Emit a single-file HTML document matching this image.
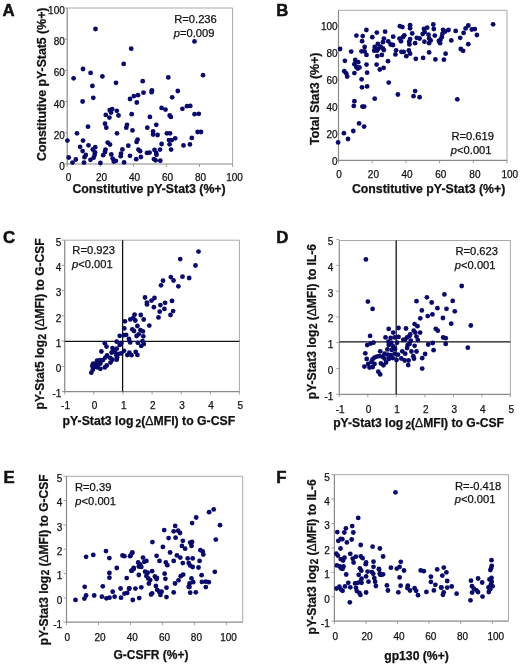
<!DOCTYPE html>
<html><head><meta charset="utf-8"><style>
html,body{margin:0;padding:0;background:#fff;width:520px;height:667px;overflow:hidden}
svg{display:block;font-family:"Liberation Sans", sans-serif;will-change:transform;}
text{fill:#111;stroke:#111;stroke-width:0.25px}
circle{fill:#0a0a6a}
</style></head><body>
<svg width="520" height="667" viewBox="0 0 520 667">
<path d="M67.2 8.0H232.6V164.0" stroke="#a8a8a8" stroke-width="1" fill="none"/>
<path d="M67.2 8.0V164.0H232.6" stroke="#8a8a8a" stroke-width="1.2" fill="none"/>
<path d="M338.5 10.3H507.0V160.3" stroke="#a8a8a8" stroke-width="1" fill="none"/>
<path d="M338.5 10.3V160.3H507.0" stroke="#8a8a8a" stroke-width="1.2" fill="none"/>
<path d="M64.7 240.2H239.4V391.6" stroke="#a8a8a8" stroke-width="1" fill="none"/>
<path d="M64.7 240.2V391.6H239.4" stroke="#8a8a8a" stroke-width="1.2" fill="none"/>
<path d="M339.3 240.5H510.4V394.3" stroke="#a8a8a8" stroke-width="1" fill="none"/>
<path d="M339.3 240.5V394.3H510.4" stroke="#8a8a8a" stroke-width="1.2" fill="none"/>
<path d="M66.5 476.3H242.7V622.2" stroke="#a8a8a8" stroke-width="1" fill="none"/>
<path d="M66.5 476.3V622.2H242.7" stroke="#8a8a8a" stroke-width="1.2" fill="none"/>
<path d="M334.4 474.7H508.5V621.2" stroke="#a8a8a8" stroke-width="1" fill="none"/>
<path d="M334.4 474.7V621.2H508.5" stroke="#8a8a8a" stroke-width="1.2" fill="none"/>
<text x="64.8" y="169.9" font-size="10.0" font-weight="normal" text-anchor="end" >0</text>
<path d="M64.2 164.0h3" stroke="#8a8a8a" stroke-width="0.8"/>
<text x="64.8" y="138.7" font-size="10.0" font-weight="normal" text-anchor="end" >20</text>
<path d="M64.2 132.8h3" stroke="#8a8a8a" stroke-width="0.8"/>
<text x="64.8" y="107.5" font-size="10.0" font-weight="normal" text-anchor="end" >40</text>
<path d="M64.2 101.6h3" stroke="#8a8a8a" stroke-width="0.8"/>
<text x="64.8" y="76.3" font-size="10.0" font-weight="normal" text-anchor="end" >60</text>
<path d="M64.2 70.4h3" stroke="#8a8a8a" stroke-width="0.8"/>
<text x="64.8" y="45.1" font-size="10.0" font-weight="normal" text-anchor="end" >80</text>
<path d="M64.2 39.2h3" stroke="#8a8a8a" stroke-width="0.8"/>
<text x="64.8" y="13.9" font-size="10.0" font-weight="normal" text-anchor="end" >100</text>
<path d="M64.2 8.0h3" stroke="#8a8a8a" stroke-width="0.8"/>
<text x="68.6" y="180.8" font-size="10.0" font-weight="normal" text-anchor="middle" >0</text>
<path d="M67.2 164.0v3" stroke="#8a8a8a" stroke-width="0.8"/>
<text x="101.6" y="180.8" font-size="10.0" font-weight="normal" text-anchor="middle" >20</text>
<path d="M100.3 164.0v3" stroke="#8a8a8a" stroke-width="0.8"/>
<text x="134.6" y="180.8" font-size="10.0" font-weight="normal" text-anchor="middle" >40</text>
<path d="M133.4 164.0v3" stroke="#8a8a8a" stroke-width="0.8"/>
<text x="167.5" y="180.8" font-size="10.0" font-weight="normal" text-anchor="middle" >60</text>
<path d="M166.4 164.0v3" stroke="#8a8a8a" stroke-width="0.8"/>
<text x="200.6" y="180.8" font-size="10.0" font-weight="normal" text-anchor="middle" >80</text>
<path d="M199.5 164.0v3" stroke="#8a8a8a" stroke-width="0.8"/>
<text x="234.6" y="180.8" font-size="10.0" font-weight="normal" text-anchor="middle" >100</text>
<path d="M232.6 164.0v3" stroke="#8a8a8a" stroke-width="0.8"/>
<text x="337.6" y="164.9" font-size="10.0" font-weight="normal" text-anchor="end" >0</text>
<path d="M335.5 160.3h3" stroke="#8a8a8a" stroke-width="0.8"/>
<text x="337.6" y="137.8" font-size="10.0" font-weight="normal" text-anchor="end" >20</text>
<path d="M335.5 133.2h3" stroke="#8a8a8a" stroke-width="0.8"/>
<text x="337.6" y="110.8" font-size="10.0" font-weight="normal" text-anchor="end" >40</text>
<path d="M335.5 106.2h3" stroke="#8a8a8a" stroke-width="0.8"/>
<text x="337.6" y="83.7" font-size="10.0" font-weight="normal" text-anchor="end" >60</text>
<path d="M335.5 79.1h3" stroke="#8a8a8a" stroke-width="0.8"/>
<text x="337.6" y="56.7" font-size="10.0" font-weight="normal" text-anchor="end" >80</text>
<path d="M335.5 52.1h3" stroke="#8a8a8a" stroke-width="0.8"/>
<text x="337.6" y="29.6" font-size="10.0" font-weight="normal" text-anchor="end" >100</text>
<path d="M335.5 25.0h3" stroke="#8a8a8a" stroke-width="0.8"/>
<text x="339.0" y="177.9" font-size="10.0" font-weight="normal" text-anchor="middle" >0</text>
<path d="M338.5 160.3v3" stroke="#8a8a8a" stroke-width="0.8"/>
<text x="373.4" y="177.9" font-size="10.0" font-weight="normal" text-anchor="middle" >20</text>
<path d="M372.2 160.3v3" stroke="#8a8a8a" stroke-width="0.8"/>
<text x="407.0" y="177.9" font-size="10.0" font-weight="normal" text-anchor="middle" >40</text>
<path d="M405.9 160.3v3" stroke="#8a8a8a" stroke-width="0.8"/>
<text x="440.8" y="177.9" font-size="10.0" font-weight="normal" text-anchor="middle" >60</text>
<path d="M439.6 160.3v3" stroke="#8a8a8a" stroke-width="0.8"/>
<text x="474.9" y="177.9" font-size="10.0" font-weight="normal" text-anchor="middle" >80</text>
<path d="M473.3 160.3v3" stroke="#8a8a8a" stroke-width="0.8"/>
<text x="509.8" y="177.9" font-size="10.0" font-weight="normal" text-anchor="middle" >100</text>
<path d="M507.0 160.3v3" stroke="#8a8a8a" stroke-width="0.8"/>
<text x="61.3" y="397.3" font-size="10.0" font-weight="normal" text-anchor="end" >-1</text>
<path d="M61.7 391.6h3" stroke="#8a8a8a" stroke-width="0.8"/>
<text x="61.3" y="372.1" font-size="10.0" font-weight="normal" text-anchor="end" >0</text>
<path d="M61.7 366.4h3" stroke="#8a8a8a" stroke-width="0.8"/>
<text x="61.3" y="346.8" font-size="10.0" font-weight="normal" text-anchor="end" >1</text>
<path d="M61.7 341.1h3" stroke="#8a8a8a" stroke-width="0.8"/>
<text x="61.3" y="321.6" font-size="10.0" font-weight="normal" text-anchor="end" >2</text>
<path d="M61.7 315.9h3" stroke="#8a8a8a" stroke-width="0.8"/>
<text x="61.3" y="296.4" font-size="10.0" font-weight="normal" text-anchor="end" >3</text>
<path d="M61.7 290.7h3" stroke="#8a8a8a" stroke-width="0.8"/>
<text x="61.3" y="271.1" font-size="10.0" font-weight="normal" text-anchor="end" >4</text>
<path d="M61.7 265.4h3" stroke="#8a8a8a" stroke-width="0.8"/>
<text x="61.3" y="245.9" font-size="10.0" font-weight="normal" text-anchor="end" >5</text>
<path d="M61.7 240.2h3" stroke="#8a8a8a" stroke-width="0.8"/>
<text x="65.5" y="409.2" font-size="10.0" font-weight="normal" text-anchor="middle" >-1</text>
<path d="M64.7 391.6v3" stroke="#8a8a8a" stroke-width="0.8"/>
<text x="94.6" y="409.2" font-size="10.0" font-weight="normal" text-anchor="middle" >0</text>
<path d="M93.8 391.6v3" stroke="#8a8a8a" stroke-width="0.8"/>
<text x="123.7" y="409.2" font-size="10.0" font-weight="normal" text-anchor="middle" >1</text>
<path d="M122.9 391.6v3" stroke="#8a8a8a" stroke-width="0.8"/>
<text x="152.9" y="409.2" font-size="10.0" font-weight="normal" text-anchor="middle" >2</text>
<path d="M152.1 391.6v3" stroke="#8a8a8a" stroke-width="0.8"/>
<text x="182.0" y="409.2" font-size="10.0" font-weight="normal" text-anchor="middle" >3</text>
<path d="M181.2 391.6v3" stroke="#8a8a8a" stroke-width="0.8"/>
<text x="211.1" y="409.2" font-size="10.0" font-weight="normal" text-anchor="middle" >4</text>
<path d="M210.3 391.6v3" stroke="#8a8a8a" stroke-width="0.8"/>
<text x="240.2" y="409.2" font-size="10.0" font-weight="normal" text-anchor="middle" >5</text>
<path d="M239.4 391.6v3" stroke="#8a8a8a" stroke-width="0.8"/>
<text x="333.3" y="399.6" font-size="10.0" font-weight="normal" text-anchor="end" >-1</text>
<path d="M336.3 394.3h3" stroke="#8a8a8a" stroke-width="0.8"/>
<text x="333.3" y="373.8" font-size="10.0" font-weight="normal" text-anchor="end" >0</text>
<path d="M336.3 368.5h3" stroke="#8a8a8a" stroke-width="0.8"/>
<text x="333.3" y="348.0" font-size="10.0" font-weight="normal" text-anchor="end" >1</text>
<path d="M336.3 342.7h3" stroke="#8a8a8a" stroke-width="0.8"/>
<text x="333.3" y="322.2" font-size="10.0" font-weight="normal" text-anchor="end" >2</text>
<path d="M336.3 316.9h3" stroke="#8a8a8a" stroke-width="0.8"/>
<text x="333.3" y="296.5" font-size="10.0" font-weight="normal" text-anchor="end" >3</text>
<path d="M336.3 291.2h3" stroke="#8a8a8a" stroke-width="0.8"/>
<text x="333.3" y="270.7" font-size="10.0" font-weight="normal" text-anchor="end" >4</text>
<path d="M336.3 265.4h3" stroke="#8a8a8a" stroke-width="0.8"/>
<text x="333.3" y="244.9" font-size="10.0" font-weight="normal" text-anchor="end" >5</text>
<path d="M336.3 239.6h3" stroke="#8a8a8a" stroke-width="0.8"/>
<text x="340.1" y="412.8" font-size="10.0" font-weight="normal" text-anchor="middle" >-1</text>
<path d="M339.3 394.3v3" stroke="#8a8a8a" stroke-width="0.8"/>
<text x="368.6" y="412.8" font-size="10.0" font-weight="normal" text-anchor="middle" >0</text>
<path d="M367.8 394.3v3" stroke="#8a8a8a" stroke-width="0.8"/>
<text x="397.1" y="412.8" font-size="10.0" font-weight="normal" text-anchor="middle" >1</text>
<path d="M396.3 394.3v3" stroke="#8a8a8a" stroke-width="0.8"/>
<text x="425.7" y="412.8" font-size="10.0" font-weight="normal" text-anchor="middle" >2</text>
<path d="M424.9 394.3v3" stroke="#8a8a8a" stroke-width="0.8"/>
<text x="454.2" y="412.8" font-size="10.0" font-weight="normal" text-anchor="middle" >3</text>
<path d="M453.4 394.3v3" stroke="#8a8a8a" stroke-width="0.8"/>
<text x="482.7" y="412.8" font-size="10.0" font-weight="normal" text-anchor="middle" >4</text>
<path d="M481.9 394.3v3" stroke="#8a8a8a" stroke-width="0.8"/>
<text x="511.2" y="412.8" font-size="10.0" font-weight="normal" text-anchor="middle" >5</text>
<path d="M510.4 394.3v3" stroke="#8a8a8a" stroke-width="0.8"/>
<text x="62.2" y="627.8" font-size="10.0" font-weight="normal" text-anchor="end" >-1</text>
<path d="M63.5 622.2h3" stroke="#8a8a8a" stroke-width="0.8"/>
<text x="62.2" y="603.5" font-size="10.0" font-weight="normal" text-anchor="end" >0</text>
<path d="M63.5 597.9h3" stroke="#8a8a8a" stroke-width="0.8"/>
<text x="62.2" y="579.2" font-size="10.0" font-weight="normal" text-anchor="end" >1</text>
<path d="M63.5 573.6h3" stroke="#8a8a8a" stroke-width="0.8"/>
<text x="62.2" y="554.9" font-size="10.0" font-weight="normal" text-anchor="end" >2</text>
<path d="M63.5 549.2h3" stroke="#8a8a8a" stroke-width="0.8"/>
<text x="62.2" y="530.5" font-size="10.0" font-weight="normal" text-anchor="end" >3</text>
<path d="M63.5 524.9h3" stroke="#8a8a8a" stroke-width="0.8"/>
<text x="62.2" y="506.2" font-size="10.0" font-weight="normal" text-anchor="end" >4</text>
<path d="M63.5 500.6h3" stroke="#8a8a8a" stroke-width="0.8"/>
<text x="62.2" y="481.9" font-size="10.0" font-weight="normal" text-anchor="end" >5</text>
<path d="M63.5 476.3h3" stroke="#8a8a8a" stroke-width="0.8"/>
<text x="67.4" y="640.6" font-size="10.0" font-weight="normal" text-anchor="middle" >0</text>
<path d="M66.5 622.2v3" stroke="#8a8a8a" stroke-width="0.8"/>
<text x="100.0" y="640.6" font-size="10.0" font-weight="normal" text-anchor="middle" >20</text>
<path d="M98.5 622.2v3" stroke="#8a8a8a" stroke-width="0.8"/>
<text x="132.2" y="640.6" font-size="10.0" font-weight="normal" text-anchor="middle" >40</text>
<path d="M130.5 622.2v3" stroke="#8a8a8a" stroke-width="0.8"/>
<text x="164.5" y="640.6" font-size="10.0" font-weight="normal" text-anchor="middle" >60</text>
<path d="M162.6 622.2v3" stroke="#8a8a8a" stroke-width="0.8"/>
<text x="196.4" y="640.6" font-size="10.0" font-weight="normal" text-anchor="middle" >80</text>
<path d="M194.6 622.2v3" stroke="#8a8a8a" stroke-width="0.8"/>
<text x="228.6" y="640.6" font-size="10.0" font-weight="normal" text-anchor="middle" >100</text>
<path d="M226.6 622.2v3" stroke="#8a8a8a" stroke-width="0.8"/>
<text x="329.9" y="627.0" font-size="10.0" font-weight="normal" text-anchor="end" >-1</text>
<path d="M331.4 621.2h3" stroke="#8a8a8a" stroke-width="0.8"/>
<text x="329.9" y="602.6" font-size="10.0" font-weight="normal" text-anchor="end" >0</text>
<path d="M331.4 596.8h3" stroke="#8a8a8a" stroke-width="0.8"/>
<text x="329.9" y="578.2" font-size="10.0" font-weight="normal" text-anchor="end" >1</text>
<path d="M331.4 572.4h3" stroke="#8a8a8a" stroke-width="0.8"/>
<text x="329.9" y="553.8" font-size="10.0" font-weight="normal" text-anchor="end" >2</text>
<path d="M331.4 548.0h3" stroke="#8a8a8a" stroke-width="0.8"/>
<text x="329.9" y="529.3" font-size="10.0" font-weight="normal" text-anchor="end" >3</text>
<path d="M331.4 523.5h3" stroke="#8a8a8a" stroke-width="0.8"/>
<text x="329.9" y="504.9" font-size="10.0" font-weight="normal" text-anchor="end" >4</text>
<path d="M331.4 499.1h3" stroke="#8a8a8a" stroke-width="0.8"/>
<text x="329.9" y="480.5" font-size="10.0" font-weight="normal" text-anchor="end" >5</text>
<path d="M331.4 474.7h3" stroke="#8a8a8a" stroke-width="0.8"/>
<text x="335.2" y="639.6" font-size="10.0" font-weight="normal" text-anchor="middle" >0</text>
<path d="M334.4 621.2v3" stroke="#8a8a8a" stroke-width="0.8"/>
<text x="367.1" y="639.6" font-size="10.0" font-weight="normal" text-anchor="middle" >20</text>
<path d="M366.0 621.2v3" stroke="#8a8a8a" stroke-width="0.8"/>
<text x="399.0" y="639.6" font-size="10.0" font-weight="normal" text-anchor="middle" >40</text>
<path d="M397.6 621.2v3" stroke="#8a8a8a" stroke-width="0.8"/>
<text x="430.8" y="639.6" font-size="10.0" font-weight="normal" text-anchor="middle" >60</text>
<path d="M429.1 621.2v3" stroke="#8a8a8a" stroke-width="0.8"/>
<text x="462.5" y="639.6" font-size="10.0" font-weight="normal" text-anchor="middle" >80</text>
<path d="M460.7 621.2v3" stroke="#8a8a8a" stroke-width="0.8"/>
<text x="495.8" y="639.6" font-size="10.0" font-weight="normal" text-anchor="middle" >100</text>
<path d="M492.3 621.2v3" stroke="#8a8a8a" stroke-width="0.8"/>
<path d="M122.6 240.2V391.6M64.7 341.3H239.4" stroke="#141414" stroke-width="1.3"/>
<path d="M396.2 240.5V394.3M339.3 341.9H510.4" stroke="#141414" stroke-width="1.3"/>
<text x="2.6" y="16.0" font-size="16.8" font-weight="bold" text-anchor="start" style="stroke-width:0.5px">A</text>
<text x="276.2" y="16.0" font-size="16.8" font-weight="bold" text-anchor="start" style="stroke-width:0.5px">B</text>
<text x="3.0" y="242.6" font-size="16.8" font-weight="bold" text-anchor="start" style="stroke-width:0.5px">C</text>
<text x="276.2" y="242.6" font-size="16.8" font-weight="bold" text-anchor="start" style="stroke-width:0.5px">D</text>
<text x="3.6" y="483.2" font-size="16.8" font-weight="bold" text-anchor="start" style="stroke-width:0.5px">E</text>
<text x="276.2" y="483.2" font-size="16.8" font-weight="bold" text-anchor="start" style="stroke-width:0.5px">F</text>
<text x="72.4" y="193.3" font-size="12.3" font-weight="bold" textLength="153.2" lengthAdjust="spacingAndGlyphs">Constitutive pY-Stat3 (%+)</text>
<text transform="translate(46.0,160.9) rotate(-90)" x="0" y="0" font-size="12.3" font-weight="bold" textLength="153.3" lengthAdjust="spacingAndGlyphs">Constitutive pY-Stat5 (%+)</text>
<text x="351.9" y="193.1" font-size="12.3" font-weight="bold" textLength="153.4" lengthAdjust="spacingAndGlyphs">Constitutive pY-Stat3 (%+)</text>
<text transform="translate(318.6,144.9) rotate(-90)" x="0" y="0" font-size="12.3" font-weight="bold" textLength="92.4" lengthAdjust="spacingAndGlyphs">Total Stat3 (%+)</text>
<text x="62.6" y="425.2" font-size="12.3" font-weight="bold" textLength="172.6" lengthAdjust="spacingAndGlyphs">pY-Stat3 log<tspan font-size="10.2" dx="2.2" dy="1.6">2</tspan><tspan dy="-1.6">(</tspan><tspan font-weight="normal">&#916;</tspan>MFI) to G-CSF</text>
<text transform="translate(44.2,409.4) rotate(-90)" x="0" y="0" font-size="12.3" font-weight="bold" textLength="170.9" lengthAdjust="spacingAndGlyphs">pY-Stat5 log<tspan font-size="10.2" dx="0.6" dy="1.6">2</tspan><tspan dy="-1.6"> (</tspan><tspan font-weight="normal">&#916;</tspan>MFI) to G-CSF</text>
<text x="333.2" y="427.0" font-size="12.3" font-weight="bold" textLength="170.8" lengthAdjust="spacingAndGlyphs">pY-Stat3 log<tspan font-size="10.2" dx="2.2" dy="1.6">2</tspan><tspan dy="-1.6">(</tspan><tspan font-weight="normal">&#916;</tspan>MFI) to G-CSF</text>
<text transform="translate(315.6,399.2) rotate(-90)" x="0" y="0" font-size="12.3" font-weight="bold" textLength="155.2" lengthAdjust="spacingAndGlyphs">pY-Stat3 log<tspan font-size="10.2" dx="0.6" dy="1.6">2</tspan><tspan dy="-1.6"> (</tspan><tspan font-weight="normal">&#916;</tspan>MFI) to IL-6</text>
<text x="113.5" y="658.5" font-size="12.3" font-weight="bold" textLength="75.0" lengthAdjust="spacingAndGlyphs">G-CSFR (%+)</text>
<text transform="translate(47.7,645.2) rotate(-90)" x="0" y="0" font-size="12.3" font-weight="bold" textLength="170.8" lengthAdjust="spacingAndGlyphs">pY-Stat3 log<tspan font-size="10.2" dx="0.6" dy="1.6">2</tspan><tspan dy="-1.6"> (</tspan><tspan font-weight="normal">&#916;</tspan>MFI) to G-CSF</text>
<text x="384.2" y="659.6" font-size="12.3" font-weight="bold" textLength="64.7" lengthAdjust="spacingAndGlyphs">gp130 (%+)</text>
<text transform="translate(316.0,634.4) rotate(-90)" x="0" y="0" font-size="12.3" font-weight="bold" textLength="155.2" lengthAdjust="spacingAndGlyphs">pY-Stat3 log<tspan font-size="10.2" dx="0.6" dy="1.6">2</tspan><tspan dy="-1.6"> (</tspan><tspan font-weight="normal">&#916;</tspan>MFI) to IL-6</text>
<text x="174.2" y="23.3" font-size="11.2" font-weight="normal" text-anchor="start" >R=0.236</text>
<text x="173.7" y="36.8" font-size="11.2"><tspan font-style="italic">p</tspan>=0.009</text>
<text x="451.4" y="139.5" font-size="11.2" font-weight="normal" text-anchor="start" >R=0.619</text>
<text x="450.8" y="153.6" font-size="11.2"><tspan font-style="italic">p</tspan>&lt;0.001</text>
<text x="72.3" y="254.2" font-size="11.2" font-weight="normal" text-anchor="start" >R=0.923</text>
<text x="71.9" y="268.2" font-size="11.2"><tspan font-style="italic">p</tspan>&lt;0.001</text>
<text x="455.4" y="255.1" font-size="11.2" font-weight="normal" text-anchor="start" >R=0.623</text>
<text x="454.8" y="268.8" font-size="11.2"><tspan font-style="italic">p</tspan>&lt;0.001</text>
<text x="75.0" y="490.9" font-size="11.2" font-weight="normal" text-anchor="start" >R=0.39</text>
<text x="75.3" y="504.8" font-size="11.2"><tspan font-style="italic">p</tspan>&lt;0.001</text>
<text x="454.9" y="489.7" font-size="11.2" font-weight="normal" text-anchor="start" >R=-0.418</text>
<text x="454.7" y="503.1" font-size="11.2"><tspan font-style="italic">p</tspan>&lt;0.001</text>
<circle cx="95.5" cy="29.0" r="2.4"/>
<circle cx="131.2" cy="48.7" r="2.4"/>
<circle cx="123.7" cy="63.9" r="2.4"/>
<circle cx="83.0" cy="69.0" r="2.4"/>
<circle cx="90.6" cy="72.9" r="2.4"/>
<circle cx="102.4" cy="76.4" r="2.4"/>
<circle cx="73.6" cy="78.3" r="2.4"/>
<circle cx="142.7" cy="81.2" r="2.4"/>
<circle cx="116.0" cy="82.8" r="2.4"/>
<circle cx="194.5" cy="41.4" r="2.4"/>
<circle cx="168.3" cy="77.4" r="2.4"/>
<circle cx="203.0" cy="75.2" r="2.4"/>
<circle cx="92.4" cy="85.9" r="2.4"/>
<circle cx="93.3" cy="97.8" r="2.4"/>
<circle cx="82.6" cy="101.5" r="2.4"/>
<circle cx="130.0" cy="99.0" r="2.4"/>
<circle cx="133.9" cy="96.1" r="2.4"/>
<circle cx="138.0" cy="95.2" r="2.4"/>
<circle cx="143.5" cy="92.7" r="2.4"/>
<circle cx="136.8" cy="102.5" r="2.4"/>
<circle cx="109.7" cy="110.1" r="2.4"/>
<circle cx="112.2" cy="109.1" r="2.4"/>
<circle cx="116.8" cy="110.8" r="2.4"/>
<circle cx="111.0" cy="112.5" r="2.4"/>
<circle cx="105.8" cy="114.9" r="2.4"/>
<circle cx="118.5" cy="115.5" r="2.4"/>
<circle cx="109.4" cy="117.6" r="2.4"/>
<circle cx="131.7" cy="114.2" r="2.4"/>
<circle cx="105.0" cy="123.7" r="2.4"/>
<circle cx="106.3" cy="127.7" r="2.4"/>
<circle cx="88.0" cy="126.7" r="2.4"/>
<circle cx="127.0" cy="124.8" r="2.4"/>
<circle cx="126.3" cy="127.7" r="2.4"/>
<circle cx="132.5" cy="130.4" r="2.4"/>
<circle cx="117.0" cy="133.3" r="2.4"/>
<circle cx="77.0" cy="133.3" r="2.4"/>
<circle cx="67.4" cy="140.6" r="2.4"/>
<circle cx="83.0" cy="140.6" r="2.4"/>
<circle cx="88.5" cy="145.3" r="2.4"/>
<circle cx="80.1" cy="146.8" r="2.4"/>
<circle cx="107.7" cy="142.6" r="2.4"/>
<circle cx="110.0" cy="144.6" r="2.4"/>
<circle cx="137.6" cy="139.6" r="2.4"/>
<circle cx="136.6" cy="141.9" r="2.4"/>
<circle cx="128.3" cy="145.7" r="2.4"/>
<circle cx="82.6" cy="151.1" r="2.4"/>
<circle cx="95.2" cy="147.2" r="2.4"/>
<circle cx="92.8" cy="149.5" r="2.4"/>
<circle cx="95.0" cy="152.3" r="2.4"/>
<circle cx="94.6" cy="155.0" r="2.4"/>
<circle cx="93.6" cy="157.7" r="2.4"/>
<circle cx="90.5" cy="159.8" r="2.4"/>
<circle cx="85.8" cy="155.0" r="2.4"/>
<circle cx="84.5" cy="157.2" r="2.4"/>
<circle cx="105.5" cy="149.6" r="2.4"/>
<circle cx="105.0" cy="152.0" r="2.4"/>
<circle cx="103.2" cy="155.2" r="2.4"/>
<circle cx="111.3" cy="154.5" r="2.4"/>
<circle cx="112.7" cy="158.6" r="2.4"/>
<circle cx="113.8" cy="161.5" r="2.4"/>
<circle cx="115.9" cy="160.8" r="2.4"/>
<circle cx="122.4" cy="149.4" r="2.4"/>
<circle cx="121.0" cy="153.6" r="2.4"/>
<circle cx="120.7" cy="156.2" r="2.4"/>
<circle cx="130.0" cy="155.8" r="2.4"/>
<circle cx="138.4" cy="149.6" r="2.4"/>
<circle cx="140.1" cy="151.2" r="2.4"/>
<circle cx="140.9" cy="157.0" r="2.4"/>
<circle cx="68.7" cy="157.5" r="2.4"/>
<circle cx="75.8" cy="159.5" r="2.4"/>
<circle cx="72.5" cy="162.6" r="2.4"/>
<circle cx="84.0" cy="162.6" r="2.4"/>
<circle cx="100.4" cy="162.9" r="2.4"/>
<circle cx="124.1" cy="162.4" r="2.4"/>
<circle cx="136.2" cy="159.2" r="2.4"/>
<circle cx="151.9" cy="90.3" r="2.4"/>
<circle cx="151.6" cy="92.2" r="2.4"/>
<circle cx="177.8" cy="91.0" r="2.4"/>
<circle cx="172.2" cy="97.3" r="2.4"/>
<circle cx="161.6" cy="107.9" r="2.4"/>
<circle cx="165.5" cy="109.6" r="2.4"/>
<circle cx="182.4" cy="108.8" r="2.4"/>
<circle cx="187.0" cy="106.2" r="2.4"/>
<circle cx="190.3" cy="105.9" r="2.4"/>
<circle cx="169.7" cy="115.5" r="2.4"/>
<circle cx="170.9" cy="116.9" r="2.4"/>
<circle cx="149.9" cy="116.9" r="2.4"/>
<circle cx="194.6" cy="114.2" r="2.4"/>
<circle cx="198.8" cy="113.8" r="2.4"/>
<circle cx="156.3" cy="124.8" r="2.4"/>
<circle cx="147.3" cy="127.7" r="2.4"/>
<circle cx="153.1" cy="131.5" r="2.4"/>
<circle cx="153.1" cy="134.6" r="2.4"/>
<circle cx="157.6" cy="135.0" r="2.4"/>
<circle cx="166.9" cy="133.3" r="2.4"/>
<circle cx="170.0" cy="133.3" r="2.4"/>
<circle cx="197.6" cy="132.0" r="2.4"/>
<circle cx="201.0" cy="132.0" r="2.4"/>
<circle cx="175.2" cy="138.3" r="2.4"/>
<circle cx="171.8" cy="140.1" r="2.4"/>
<circle cx="169.0" cy="140.1" r="2.4"/>
<circle cx="191.8" cy="137.9" r="2.4"/>
<circle cx="161.6" cy="144.0" r="2.4"/>
<circle cx="169.6" cy="144.3" r="2.4"/>
<circle cx="183.5" cy="145.4" r="2.4"/>
<circle cx="189.9" cy="144.4" r="2.4"/>
<circle cx="171.1" cy="149.6" r="2.4"/>
<circle cx="160.0" cy="149.6" r="2.4"/>
<circle cx="154.5" cy="149.9" r="2.4"/>
<circle cx="149.6" cy="152.6" r="2.4"/>
<circle cx="147.0" cy="152.9" r="2.4"/>
<circle cx="156.2" cy="152.9" r="2.4"/>
<circle cx="156.5" cy="154.8" r="2.4"/>
<circle cx="153.9" cy="159.1" r="2.4"/>
<circle cx="155.6" cy="160.3" r="2.4"/>
<circle cx="160.3" cy="160.7" r="2.4"/>
<circle cx="366.4" cy="30.0" r="2.4"/>
<circle cx="376.8" cy="32.6" r="2.4"/>
<circle cx="385.1" cy="31.7" r="2.4"/>
<circle cx="356.4" cy="35.6" r="2.4"/>
<circle cx="362.7" cy="36.1" r="2.4"/>
<circle cx="372.3" cy="37.2" r="2.4"/>
<circle cx="383.9" cy="38.6" r="2.4"/>
<circle cx="393.2" cy="36.7" r="2.4"/>
<circle cx="399.5" cy="38.6" r="2.4"/>
<circle cx="362.1" cy="41.2" r="2.4"/>
<circle cx="382.9" cy="42.2" r="2.4"/>
<circle cx="388.2" cy="41.3" r="2.4"/>
<circle cx="390.7" cy="44.5" r="2.4"/>
<circle cx="393.0" cy="45.0" r="2.4"/>
<circle cx="401.0" cy="41.3" r="2.4"/>
<circle cx="377.8" cy="44.0" r="2.4"/>
<circle cx="364.6" cy="47.0" r="2.4"/>
<circle cx="374.7" cy="46.9" r="2.4"/>
<circle cx="380.6" cy="46.6" r="2.4"/>
<circle cx="378.4" cy="48.8" r="2.4"/>
<circle cx="382.9" cy="48.4" r="2.4"/>
<circle cx="374.2" cy="50.7" r="2.4"/>
<circle cx="377.1" cy="50.7" r="2.4"/>
<circle cx="383.9" cy="50.1" r="2.4"/>
<circle cx="361.5" cy="51.3" r="2.4"/>
<circle cx="364.6" cy="51.4" r="2.4"/>
<circle cx="366.5" cy="54.9" r="2.4"/>
<circle cx="377.3" cy="56.1" r="2.4"/>
<circle cx="381.8" cy="54.9" r="2.4"/>
<circle cx="396.1" cy="50.3" r="2.4"/>
<circle cx="395.4" cy="54.4" r="2.4"/>
<circle cx="401.4" cy="51.8" r="2.4"/>
<circle cx="340.1" cy="49.0" r="2.4"/>
<circle cx="351.2" cy="51.6" r="2.4"/>
<circle cx="344.9" cy="60.8" r="2.4"/>
<circle cx="355.2" cy="60.0" r="2.4"/>
<circle cx="358.2" cy="62.2" r="2.4"/>
<circle cx="366.5" cy="64.6" r="2.4"/>
<circle cx="376.6" cy="64.6" r="2.4"/>
<circle cx="388.0" cy="61.2" r="2.4"/>
<circle cx="354.4" cy="64.2" r="2.4"/>
<circle cx="399.9" cy="26.2" r="2.4"/>
<circle cx="402.4" cy="27.1" r="2.4"/>
<circle cx="410.1" cy="25.2" r="2.4"/>
<circle cx="410.1" cy="28.3" r="2.4"/>
<circle cx="412.2" cy="33.4" r="2.4"/>
<circle cx="424.0" cy="29.0" r="2.4"/>
<circle cx="427.2" cy="27.7" r="2.4"/>
<circle cx="433.3" cy="24.5" r="2.4"/>
<circle cx="433.8" cy="29.0" r="2.4"/>
<circle cx="424.7" cy="32.1" r="2.4"/>
<circle cx="422.7" cy="34.0" r="2.4"/>
<circle cx="428.5" cy="34.7" r="2.4"/>
<circle cx="434.8" cy="35.6" r="2.4"/>
<circle cx="429.1" cy="38.5" r="2.4"/>
<circle cx="416.8" cy="37.8" r="2.4"/>
<circle cx="419.6" cy="38.5" r="2.4"/>
<circle cx="404.3" cy="35.3" r="2.4"/>
<circle cx="402.8" cy="37.2" r="2.4"/>
<circle cx="410.1" cy="39.1" r="2.4"/>
<circle cx="409.2" cy="41.7" r="2.4"/>
<circle cx="409.4" cy="44.4" r="2.4"/>
<circle cx="415.1" cy="43.2" r="2.4"/>
<circle cx="424.4" cy="41.7" r="2.4"/>
<circle cx="429.1" cy="43.2" r="2.4"/>
<circle cx="430.7" cy="40.4" r="2.4"/>
<circle cx="443.1" cy="30.0" r="2.4"/>
<circle cx="445.2" cy="31.5" r="2.4"/>
<circle cx="448.5" cy="30.0" r="2.4"/>
<circle cx="442.4" cy="34.0" r="2.4"/>
<circle cx="441.8" cy="37.2" r="2.4"/>
<circle cx="440.5" cy="39.7" r="2.4"/>
<circle cx="438.9" cy="41.0" r="2.4"/>
<circle cx="440.1" cy="43.2" r="2.4"/>
<circle cx="455.7" cy="30.9" r="2.4"/>
<circle cx="451.3" cy="40.4" r="2.4"/>
<circle cx="460.2" cy="37.8" r="2.4"/>
<circle cx="463.6" cy="32.9" r="2.4"/>
<circle cx="460.8" cy="49.0" r="2.4"/>
<circle cx="463.1" cy="50.8" r="2.4"/>
<circle cx="403.7" cy="51.8" r="2.4"/>
<circle cx="408.8" cy="50.5" r="2.4"/>
<circle cx="410.1" cy="53.7" r="2.4"/>
<circle cx="406.3" cy="56.2" r="2.4"/>
<circle cx="415.8" cy="58.8" r="2.4"/>
<circle cx="423.1" cy="57.9" r="2.4"/>
<circle cx="429.1" cy="52.4" r="2.4"/>
<circle cx="435.4" cy="59.4" r="2.4"/>
<circle cx="443.9" cy="59.7" r="2.4"/>
<circle cx="445.6" cy="53.7" r="2.4"/>
<circle cx="493.1" cy="24.3" r="2.4"/>
<circle cx="468.3" cy="25.5" r="2.4"/>
<circle cx="465.6" cy="28.4" r="2.4"/>
<circle cx="471.8" cy="29.5" r="2.4"/>
<circle cx="474.8" cy="29.1" r="2.4"/>
<circle cx="476.9" cy="35.0" r="2.4"/>
<circle cx="468.3" cy="44.2" r="2.4"/>
<circle cx="356.3" cy="67.0" r="2.4"/>
<circle cx="359.5" cy="67.4" r="2.4"/>
<circle cx="357.8" cy="68.6" r="2.4"/>
<circle cx="379.8" cy="69.5" r="2.4"/>
<circle cx="383.6" cy="67.9" r="2.4"/>
<circle cx="344.3" cy="71.2" r="2.4"/>
<circle cx="346.2" cy="73.3" r="2.4"/>
<circle cx="347.2" cy="76.5" r="2.4"/>
<circle cx="354.4" cy="73.1" r="2.4"/>
<circle cx="367.1" cy="72.7" r="2.4"/>
<circle cx="361.6" cy="79.3" r="2.4"/>
<circle cx="388.7" cy="82.6" r="2.4"/>
<circle cx="362.0" cy="87.3" r="2.4"/>
<circle cx="367.1" cy="86.4" r="2.4"/>
<circle cx="397.9" cy="94.5" r="2.4"/>
<circle cx="374.7" cy="98.7" r="2.4"/>
<circle cx="354.4" cy="101.2" r="2.4"/>
<circle cx="353.8" cy="105.9" r="2.4"/>
<circle cx="362.4" cy="106.6" r="2.4"/>
<circle cx="364.2" cy="106.6" r="2.4"/>
<circle cx="415.1" cy="91.1" r="2.4"/>
<circle cx="413.5" cy="96.2" r="2.4"/>
<circle cx="419.6" cy="97.2" r="2.4"/>
<circle cx="457.3" cy="99.3" r="2.4"/>
<circle cx="359.1" cy="123.4" r="2.4"/>
<circle cx="364.1" cy="126.6" r="2.4"/>
<circle cx="353.3" cy="131.0" r="2.4"/>
<circle cx="343.9" cy="133.2" r="2.4"/>
<circle cx="348.0" cy="139.0" r="2.4"/>
<circle cx="338.1" cy="142.4" r="2.4"/>
<circle cx="198.5" cy="251.6" r="2.4"/>
<circle cx="180.2" cy="259.1" r="2.4"/>
<circle cx="195.5" cy="265.5" r="2.4"/>
<circle cx="182.5" cy="276.7" r="2.4"/>
<circle cx="189.2" cy="278.0" r="2.4"/>
<circle cx="170.8" cy="277.1" r="2.4"/>
<circle cx="173.5" cy="280.5" r="2.4"/>
<circle cx="163.0" cy="280.7" r="2.4"/>
<circle cx="161.0" cy="285.3" r="2.4"/>
<circle cx="178.4" cy="286.3" r="2.4"/>
<circle cx="145.0" cy="297.5" r="2.4"/>
<circle cx="154.5" cy="298.0" r="2.4"/>
<circle cx="151.5" cy="300.6" r="2.4"/>
<circle cx="146.9" cy="302.6" r="2.4"/>
<circle cx="147.0" cy="304.4" r="2.4"/>
<circle cx="165.1" cy="302.8" r="2.4"/>
<circle cx="172.0" cy="300.9" r="2.4"/>
<circle cx="160.4" cy="305.1" r="2.4"/>
<circle cx="153.9" cy="307.2" r="2.4"/>
<circle cx="164.4" cy="308.9" r="2.4"/>
<circle cx="159.7" cy="311.7" r="2.4"/>
<circle cx="173.1" cy="311.1" r="2.4"/>
<circle cx="170.5" cy="315.0" r="2.4"/>
<circle cx="158.5" cy="317.4" r="2.4"/>
<circle cx="134.6" cy="314.6" r="2.4"/>
<circle cx="133.3" cy="318.0" r="2.4"/>
<circle cx="140.8" cy="315.0" r="2.4"/>
<circle cx="130.3" cy="319.4" r="2.4"/>
<circle cx="135.3" cy="320.5" r="2.4"/>
<circle cx="143.7" cy="319.5" r="2.4"/>
<circle cx="124.9" cy="321.3" r="2.4"/>
<circle cx="137.4" cy="326.0" r="2.4"/>
<circle cx="149.3" cy="325.6" r="2.4"/>
<circle cx="124.3" cy="328.4" r="2.4"/>
<circle cx="132.3" cy="329.3" r="2.4"/>
<circle cx="134.0" cy="331.0" r="2.4"/>
<circle cx="140.4" cy="330.1" r="2.4"/>
<circle cx="142.9" cy="331.4" r="2.4"/>
<circle cx="138.7" cy="334.3" r="2.4"/>
<circle cx="136.6" cy="336.0" r="2.4"/>
<circle cx="143.3" cy="336.3" r="2.4"/>
<circle cx="119.7" cy="335.8" r="2.4"/>
<circle cx="123.9" cy="335.2" r="2.4"/>
<circle cx="126.2" cy="334.8" r="2.4"/>
<circle cx="129.0" cy="339.0" r="2.4"/>
<circle cx="130.2" cy="342.4" r="2.4"/>
<circle cx="137.8" cy="342.8" r="2.4"/>
<circle cx="142.5" cy="341.1" r="2.4"/>
<circle cx="143.8" cy="344.1" r="2.4"/>
<circle cx="141.2" cy="345.9" r="2.4"/>
<circle cx="116.7" cy="341.7" r="2.4"/>
<circle cx="119.7" cy="344.9" r="2.4"/>
<circle cx="121.3" cy="343.2" r="2.4"/>
<circle cx="104.8" cy="343.2" r="2.4"/>
<circle cx="106.5" cy="346.6" r="2.4"/>
<circle cx="112.5" cy="348.1" r="2.4"/>
<circle cx="116.7" cy="348.7" r="2.4"/>
<circle cx="114.2" cy="350.2" r="2.4"/>
<circle cx="111.6" cy="352.5" r="2.4"/>
<circle cx="115.0" cy="352.5" r="2.4"/>
<circle cx="121.3" cy="353.4" r="2.4"/>
<circle cx="124.1" cy="350.8" r="2.4"/>
<circle cx="129.4" cy="352.7" r="2.4"/>
<circle cx="127.3" cy="355.1" r="2.4"/>
<circle cx="131.5" cy="355.2" r="2.4"/>
<circle cx="135.7" cy="351.9" r="2.4"/>
<circle cx="137.4" cy="354.9" r="2.4"/>
<circle cx="107.0" cy="355.5" r="2.4"/>
<circle cx="105.3" cy="357.6" r="2.4"/>
<circle cx="110.3" cy="358.0" r="2.4"/>
<circle cx="116.3" cy="355.1" r="2.4"/>
<circle cx="117.1" cy="357.2" r="2.4"/>
<circle cx="116.7" cy="359.7" r="2.4"/>
<circle cx="112.5" cy="359.7" r="2.4"/>
<circle cx="118.5" cy="353.8" r="2.4"/>
<circle cx="101.4" cy="351.5" r="2.4"/>
<circle cx="102.8" cy="360.2" r="2.4"/>
<circle cx="100.0" cy="360.2" r="2.4"/>
<circle cx="97.1" cy="360.7" r="2.4"/>
<circle cx="100.4" cy="363.6" r="2.4"/>
<circle cx="98.0" cy="364.5" r="2.4"/>
<circle cx="106.7" cy="365.5" r="2.4"/>
<circle cx="104.8" cy="367.4" r="2.4"/>
<circle cx="100.4" cy="368.8" r="2.4"/>
<circle cx="96.1" cy="363.6" r="2.4"/>
<circle cx="93.2" cy="363.6" r="2.4"/>
<circle cx="92.3" cy="366.0" r="2.4"/>
<circle cx="94.7" cy="366.9" r="2.4"/>
<circle cx="92.8" cy="369.8" r="2.4"/>
<circle cx="91.3" cy="372.7" r="2.4"/>
<circle cx="97.6" cy="367.4" r="2.4"/>
<circle cx="110.5" cy="362.6" r="2.4"/>
<circle cx="365.9" cy="259.4" r="2.4"/>
<circle cx="367.9" cy="301.6" r="2.4"/>
<circle cx="372.6" cy="308.9" r="2.4"/>
<circle cx="388.7" cy="328.9" r="2.4"/>
<circle cx="398.5" cy="328.0" r="2.4"/>
<circle cx="406.0" cy="328.5" r="2.4"/>
<circle cx="393.2" cy="332.6" r="2.4"/>
<circle cx="370.1" cy="335.9" r="2.4"/>
<circle cx="385.5" cy="337.4" r="2.4"/>
<circle cx="390.6" cy="337.9" r="2.4"/>
<circle cx="394.6" cy="337.4" r="2.4"/>
<circle cx="398.5" cy="336.9" r="2.4"/>
<circle cx="403.3" cy="339.8" r="2.4"/>
<circle cx="407.1" cy="337.4" r="2.4"/>
<circle cx="409.6" cy="335.8" r="2.4"/>
<circle cx="373.5" cy="342.7" r="2.4"/>
<circle cx="370.6" cy="343.6" r="2.4"/>
<circle cx="367.2" cy="345.1" r="2.4"/>
<circle cx="388.4" cy="341.7" r="2.4"/>
<circle cx="391.3" cy="342.7" r="2.4"/>
<circle cx="397.0" cy="342.7" r="2.4"/>
<circle cx="388.8" cy="345.1" r="2.4"/>
<circle cx="393.2" cy="346.5" r="2.4"/>
<circle cx="387.4" cy="349.4" r="2.4"/>
<circle cx="391.7" cy="349.9" r="2.4"/>
<circle cx="395.1" cy="348.9" r="2.4"/>
<circle cx="380.2" cy="351.3" r="2.4"/>
<circle cx="365.3" cy="353.3" r="2.4"/>
<circle cx="402.3" cy="351.3" r="2.4"/>
<circle cx="407.1" cy="348.0" r="2.4"/>
<circle cx="407.6" cy="345.1" r="2.4"/>
<circle cx="405.2" cy="353.7" r="2.4"/>
<circle cx="384.5" cy="353.7" r="2.4"/>
<circle cx="387.9" cy="354.7" r="2.4"/>
<circle cx="390.8" cy="355.2" r="2.4"/>
<circle cx="394.6" cy="353.7" r="2.4"/>
<circle cx="398.0" cy="354.7" r="2.4"/>
<circle cx="374.4" cy="357.6" r="2.4"/>
<circle cx="376.8" cy="356.6" r="2.4"/>
<circle cx="379.2" cy="356.1" r="2.4"/>
<circle cx="372.5" cy="359.5" r="2.4"/>
<circle cx="366.7" cy="359.0" r="2.4"/>
<circle cx="384.5" cy="358.5" r="2.4"/>
<circle cx="388.8" cy="359.0" r="2.4"/>
<circle cx="392.7" cy="358.1" r="2.4"/>
<circle cx="396.5" cy="360.0" r="2.4"/>
<circle cx="401.3" cy="358.5" r="2.4"/>
<circle cx="404.7" cy="360.5" r="2.4"/>
<circle cx="408.6" cy="360.5" r="2.4"/>
<circle cx="416.5" cy="336.6" r="2.4"/>
<circle cx="405.1" cy="339.7" r="2.4"/>
<circle cx="417.8" cy="340.1" r="2.4"/>
<circle cx="410.8" cy="340.7" r="2.4"/>
<circle cx="409.5" cy="343.9" r="2.4"/>
<circle cx="414.6" cy="345.8" r="2.4"/>
<circle cx="411.4" cy="351.5" r="2.4"/>
<circle cx="416.5" cy="351.5" r="2.4"/>
<circle cx="413.3" cy="356.2" r="2.4"/>
<circle cx="414.0" cy="358.7" r="2.4"/>
<circle cx="408.2" cy="365.1" r="2.4"/>
<circle cx="422.2" cy="368.6" r="2.4"/>
<circle cx="425.1" cy="354.0" r="2.4"/>
<circle cx="422.2" cy="358.2" r="2.4"/>
<circle cx="428.2" cy="344.5" r="2.4"/>
<circle cx="432.7" cy="343.0" r="2.4"/>
<circle cx="433.6" cy="350.2" r="2.4"/>
<circle cx="443.2" cy="337.5" r="2.4"/>
<circle cx="445.7" cy="338.2" r="2.4"/>
<circle cx="445.7" cy="343.9" r="2.4"/>
<circle cx="364.4" cy="366.6" r="2.4"/>
<circle cx="368.2" cy="364.0" r="2.4"/>
<circle cx="371.4" cy="362.1" r="2.4"/>
<circle cx="369.5" cy="367.6" r="2.4"/>
<circle cx="372.6" cy="367.2" r="2.4"/>
<circle cx="374.5" cy="364.0" r="2.4"/>
<circle cx="382.2" cy="356.7" r="2.4"/>
<circle cx="380.9" cy="363.4" r="2.4"/>
<circle cx="383.4" cy="365.3" r="2.4"/>
<circle cx="386.0" cy="362.5" r="2.4"/>
<circle cx="378.3" cy="371.7" r="2.4"/>
<circle cx="380.2" cy="374.4" r="2.4"/>
<circle cx="461.7" cy="286.0" r="2.4"/>
<circle cx="444.4" cy="294.4" r="2.4"/>
<circle cx="426.9" cy="297.3" r="2.4"/>
<circle cx="416.5" cy="301.2" r="2.4"/>
<circle cx="431.7" cy="302.5" r="2.4"/>
<circle cx="452.7" cy="300.9" r="2.4"/>
<circle cx="437.4" cy="308.2" r="2.4"/>
<circle cx="446.5" cy="308.8" r="2.4"/>
<circle cx="454.8" cy="311.3" r="2.4"/>
<circle cx="421.8" cy="310.4" r="2.4"/>
<circle cx="432.4" cy="314.4" r="2.4"/>
<circle cx="427.7" cy="316.1" r="2.4"/>
<circle cx="420.3" cy="318.3" r="2.4"/>
<circle cx="442.9" cy="318.0" r="2.4"/>
<circle cx="451.2" cy="323.7" r="2.4"/>
<circle cx="414.6" cy="324.1" r="2.4"/>
<circle cx="417.5" cy="326.2" r="2.4"/>
<circle cx="435.8" cy="328.8" r="2.4"/>
<circle cx="437.8" cy="330.7" r="2.4"/>
<circle cx="413.7" cy="330.7" r="2.4"/>
<circle cx="415.2" cy="332.6" r="2.4"/>
<circle cx="420.1" cy="332.6" r="2.4"/>
<circle cx="410.2" cy="334.5" r="2.4"/>
<circle cx="470.8" cy="325.5" r="2.4"/>
<circle cx="467.8" cy="347.7" r="2.4"/>
<circle cx="86.1" cy="556.8" r="2.4"/>
<circle cx="93.3" cy="554.9" r="2.4"/>
<circle cx="106.0" cy="551.1" r="2.4"/>
<circle cx="109.4" cy="558.1" r="2.4"/>
<circle cx="122.5" cy="555.5" r="2.4"/>
<circle cx="124.4" cy="556.2" r="2.4"/>
<circle cx="130.1" cy="556.2" r="2.4"/>
<circle cx="131.8" cy="553.3" r="2.4"/>
<circle cx="116.8" cy="568.0" r="2.4"/>
<circle cx="109.4" cy="572.9" r="2.4"/>
<circle cx="109.4" cy="577.7" r="2.4"/>
<circle cx="131.4" cy="570.7" r="2.4"/>
<circle cx="126.7" cy="578.1" r="2.4"/>
<circle cx="84.7" cy="586.8" r="2.4"/>
<circle cx="102.8" cy="586.3" r="2.4"/>
<circle cx="120.6" cy="588.5" r="2.4"/>
<circle cx="129.2" cy="588.5" r="2.4"/>
<circle cx="112.7" cy="591.7" r="2.4"/>
<circle cx="124.4" cy="593.6" r="2.4"/>
<circle cx="127.2" cy="592.9" r="2.4"/>
<circle cx="86.1" cy="595.5" r="2.4"/>
<circle cx="84.4" cy="598.6" r="2.4"/>
<circle cx="94.2" cy="595.5" r="2.4"/>
<circle cx="101.9" cy="596.7" r="2.4"/>
<circle cx="106.4" cy="598.3" r="2.4"/>
<circle cx="109.5" cy="597.7" r="2.4"/>
<circle cx="114.6" cy="596.7" r="2.4"/>
<circle cx="121.0" cy="597.7" r="2.4"/>
<circle cx="75.5" cy="599.9" r="2.4"/>
<circle cx="132.8" cy="600.0" r="2.4"/>
<circle cx="192.1" cy="523.1" r="2.4"/>
<circle cx="175.2" cy="525.9" r="2.4"/>
<circle cx="164.2" cy="530.1" r="2.4"/>
<circle cx="173.7" cy="531.3" r="2.4"/>
<circle cx="178.1" cy="530.7" r="2.4"/>
<circle cx="180.0" cy="533.0" r="2.4"/>
<circle cx="168.6" cy="538.1" r="2.4"/>
<circle cx="175.6" cy="537.7" r="2.4"/>
<circle cx="182.8" cy="540.8" r="2.4"/>
<circle cx="152.4" cy="542.1" r="2.4"/>
<circle cx="190.2" cy="542.7" r="2.4"/>
<circle cx="192.1" cy="541.9" r="2.4"/>
<circle cx="191.5" cy="545.9" r="2.4"/>
<circle cx="181.9" cy="545.9" r="2.4"/>
<circle cx="185.1" cy="548.7" r="2.4"/>
<circle cx="162.9" cy="546.9" r="2.4"/>
<circle cx="132.4" cy="552.5" r="2.4"/>
<circle cx="130.5" cy="555.8" r="2.4"/>
<circle cx="156.6" cy="555.8" r="2.4"/>
<circle cx="170.1" cy="552.5" r="2.4"/>
<circle cx="176.9" cy="555.4" r="2.4"/>
<circle cx="180.3" cy="557.6" r="2.4"/>
<circle cx="187.7" cy="558.4" r="2.4"/>
<circle cx="192.7" cy="558.4" r="2.4"/>
<circle cx="143.0" cy="557.6" r="2.4"/>
<circle cx="146.4" cy="560.9" r="2.4"/>
<circle cx="144.2" cy="561.8" r="2.4"/>
<circle cx="159.5" cy="560.9" r="2.4"/>
<circle cx="173.7" cy="560.9" r="2.4"/>
<circle cx="138.2" cy="562.4" r="2.4"/>
<circle cx="140.1" cy="564.3" r="2.4"/>
<circle cx="165.8" cy="562.4" r="2.4"/>
<circle cx="167.3" cy="565.2" r="2.4"/>
<circle cx="182.8" cy="563.1" r="2.4"/>
<circle cx="188.7" cy="563.1" r="2.4"/>
<circle cx="190.2" cy="565.6" r="2.4"/>
<circle cx="133.7" cy="567.8" r="2.4"/>
<circle cx="138.8" cy="566.5" r="2.4"/>
<circle cx="141.3" cy="566.9" r="2.4"/>
<circle cx="192.7" cy="567.0" r="2.4"/>
<circle cx="133.7" cy="569.1" r="2.4"/>
<circle cx="131.8" cy="570.8" r="2.4"/>
<circle cx="138.8" cy="575.0" r="2.4"/>
<circle cx="145.1" cy="571.7" r="2.4"/>
<circle cx="147.7" cy="572.7" r="2.4"/>
<circle cx="152.1" cy="571.2" r="2.4"/>
<circle cx="146.4" cy="575.9" r="2.4"/>
<circle cx="148.3" cy="578.4" r="2.4"/>
<circle cx="150.2" cy="580.1" r="2.4"/>
<circle cx="148.9" cy="583.5" r="2.4"/>
<circle cx="154.9" cy="576.5" r="2.4"/>
<circle cx="156.9" cy="577.8" r="2.4"/>
<circle cx="156.6" cy="579.0" r="2.4"/>
<circle cx="164.6" cy="573.7" r="2.4"/>
<circle cx="165.4" cy="578.8" r="2.4"/>
<circle cx="180.7" cy="576.2" r="2.4"/>
<circle cx="183.2" cy="574.6" r="2.4"/>
<circle cx="178.5" cy="580.3" r="2.4"/>
<circle cx="175.0" cy="583.5" r="2.4"/>
<circle cx="191.5" cy="578.4" r="2.4"/>
<circle cx="189.6" cy="583.5" r="2.4"/>
<circle cx="188.7" cy="586.7" r="2.4"/>
<circle cx="129.3" cy="588.6" r="2.4"/>
<circle cx="135.4" cy="588.6" r="2.4"/>
<circle cx="141.3" cy="587.3" r="2.4"/>
<circle cx="155.9" cy="586.0" r="2.4"/>
<circle cx="157.2" cy="589.8" r="2.4"/>
<circle cx="159.1" cy="591.7" r="2.4"/>
<circle cx="161.6" cy="591.7" r="2.4"/>
<circle cx="160.4" cy="594.9" r="2.4"/>
<circle cx="152.1" cy="593.3" r="2.4"/>
<circle cx="151.1" cy="594.5" r="2.4"/>
<circle cx="166.5" cy="587.7" r="2.4"/>
<circle cx="173.7" cy="592.4" r="2.4"/>
<circle cx="190.2" cy="592.7" r="2.4"/>
<circle cx="139.2" cy="598.1" r="2.4"/>
<circle cx="166.5" cy="597.1" r="2.4"/>
<circle cx="213.7" cy="509.4" r="2.4"/>
<circle cx="209.1" cy="512.2" r="2.4"/>
<circle cx="196.2" cy="517.5" r="2.4"/>
<circle cx="220.0" cy="525.2" r="2.4"/>
<circle cx="215.8" cy="539.6" r="2.4"/>
<circle cx="200.4" cy="550.2" r="2.4"/>
<circle cx="202.7" cy="551.4" r="2.4"/>
<circle cx="203.3" cy="554.5" r="2.4"/>
<circle cx="199.6" cy="560.9" r="2.4"/>
<circle cx="198.5" cy="567.5" r="2.4"/>
<circle cx="214.8" cy="571.8" r="2.4"/>
<circle cx="201.6" cy="575.2" r="2.4"/>
<circle cx="193.2" cy="582.2" r="2.4"/>
<circle cx="189.5" cy="587.1" r="2.4"/>
<circle cx="201.9" cy="581.9" r="2.4"/>
<circle cx="205.8" cy="581.7" r="2.4"/>
<circle cx="208.8" cy="582.2" r="2.4"/>
<circle cx="205.8" cy="587.1" r="2.4"/>
<circle cx="195.8" cy="592.3" r="2.4"/>
<circle cx="395.5" cy="492.3" r="2.4"/>
<circle cx="358.2" cy="517.9" r="2.4"/>
<circle cx="352.2" cy="526.1" r="2.4"/>
<circle cx="345.9" cy="528.3" r="2.4"/>
<circle cx="337.3" cy="532.1" r="2.4"/>
<circle cx="344.3" cy="532.5" r="2.4"/>
<circle cx="353.3" cy="532.5" r="2.4"/>
<circle cx="338.3" cy="540.8" r="2.4"/>
<circle cx="340.7" cy="539.0" r="2.4"/>
<circle cx="342.3" cy="539.2" r="2.4"/>
<circle cx="346.9" cy="542.4" r="2.4"/>
<circle cx="351.7" cy="539.5" r="2.4"/>
<circle cx="360.7" cy="545.0" r="2.4"/>
<circle cx="340.5" cy="548.5" r="2.4"/>
<circle cx="372.6" cy="546.7" r="2.4"/>
<circle cx="379.9" cy="548.5" r="2.4"/>
<circle cx="336.3" cy="553.7" r="2.4"/>
<circle cx="337.8" cy="555.6" r="2.4"/>
<circle cx="350.3" cy="553.8" r="2.4"/>
<circle cx="360.8" cy="556.3" r="2.4"/>
<circle cx="362.6" cy="558.2" r="2.4"/>
<circle cx="355.8" cy="556.7" r="2.4"/>
<circle cx="352.7" cy="558.7" r="2.4"/>
<circle cx="344.5" cy="557.7" r="2.4"/>
<circle cx="340.7" cy="559.1" r="2.4"/>
<circle cx="343.1" cy="560.6" r="2.4"/>
<circle cx="353.6" cy="562.5" r="2.4"/>
<circle cx="366.1" cy="562.5" r="2.4"/>
<circle cx="365.7" cy="564.2" r="2.4"/>
<circle cx="373.5" cy="561.7" r="2.4"/>
<circle cx="373.5" cy="566.8" r="2.4"/>
<circle cx="336.8" cy="565.4" r="2.4"/>
<circle cx="339.7" cy="566.3" r="2.4"/>
<circle cx="343.5" cy="566.5" r="2.4"/>
<circle cx="341.1" cy="568.3" r="2.4"/>
<circle cx="342.6" cy="568.8" r="2.4"/>
<circle cx="359.9" cy="568.3" r="2.4"/>
<circle cx="361.3" cy="570.7" r="2.4"/>
<circle cx="367.6" cy="571.6" r="2.4"/>
<circle cx="371.9" cy="572.1" r="2.4"/>
<circle cx="373.3" cy="573.8" r="2.4"/>
<circle cx="378.9" cy="569.0" r="2.4"/>
<circle cx="380.1" cy="574.5" r="2.4"/>
<circle cx="346.2" cy="574.5" r="2.4"/>
<circle cx="358.7" cy="574.8" r="2.4"/>
<circle cx="366.1" cy="576.4" r="2.4"/>
<circle cx="361.6" cy="578.7" r="2.4"/>
<circle cx="360.8" cy="580.8" r="2.4"/>
<circle cx="374.3" cy="578.1" r="2.4"/>
<circle cx="375.1" cy="581.7" r="2.4"/>
<circle cx="375.9" cy="586.0" r="2.4"/>
<circle cx="368.5" cy="581.7" r="2.4"/>
<circle cx="348.3" cy="582.8" r="2.4"/>
<circle cx="355.1" cy="583.4" r="2.4"/>
<circle cx="357.8" cy="582.8" r="2.4"/>
<circle cx="361.5" cy="582.8" r="2.4"/>
<circle cx="345.0" cy="586.4" r="2.4"/>
<circle cx="350.3" cy="587.3" r="2.4"/>
<circle cx="356.0" cy="587.8" r="2.4"/>
<circle cx="339.4" cy="586.7" r="2.4"/>
<circle cx="336.6" cy="588.5" r="2.4"/>
<circle cx="342.6" cy="590.8" r="2.4"/>
<circle cx="341.1" cy="589.6" r="2.4"/>
<circle cx="356.8" cy="591.1" r="2.4"/>
<circle cx="359.4" cy="593.0" r="2.4"/>
<circle cx="360.4" cy="594.9" r="2.4"/>
<circle cx="366.1" cy="592.5" r="2.4"/>
<circle cx="349.8" cy="602.3" r="2.4"/>
<circle cx="491.5" cy="560.2" r="2.4"/>
<circle cx="491.8" cy="565.8" r="2.4"/>
<circle cx="491.2" cy="567.9" r="2.4"/>
<circle cx="490.4" cy="570.0" r="2.4"/>
<circle cx="478.1" cy="578.5" r="2.4"/>
<circle cx="471.0" cy="580.7" r="2.4"/>
<circle cx="482.2" cy="582.5" r="2.4"/>
<circle cx="491.5" cy="578.0" r="2.4"/>
<circle cx="489.5" cy="579.5" r="2.4"/>
<circle cx="491.8" cy="581.8" r="2.4"/>
<circle cx="490.9" cy="584.5" r="2.4"/>
<circle cx="492.7" cy="586.3" r="2.4"/>
<circle cx="488.5" cy="587.4" r="2.4"/>
<circle cx="490.2" cy="589.2" r="2.4"/>
<circle cx="488.8" cy="592.0" r="2.4"/>
<circle cx="472.0" cy="586.2" r="2.4"/>
<circle cx="473.8" cy="588.7" r="2.4"/>
<circle cx="476.5" cy="590.3" r="2.4"/>
<circle cx="478.0" cy="592.1" r="2.4"/>
<circle cx="472.1" cy="592.6" r="2.4"/>
<circle cx="451.7" cy="586.5" r="2.4"/>
<circle cx="456.6" cy="593.7" r="2.4"/>
<circle cx="482.5" cy="596.6" r="2.4"/>
<circle cx="470.5" cy="600.3" r="2.4"/>
<circle cx="442.3" cy="575.6" r="2.4"/>
<circle cx="447.2" cy="581.0" r="2.4"/>
<circle cx="441.2" cy="587.5" r="2.4"/>
<circle cx="447.2" cy="587.6" r="2.4"/>
<circle cx="443.7" cy="592.3" r="2.4"/>
<circle cx="442.9" cy="594.8" r="2.4"/>
<circle cx="383.1" cy="556.5" r="2.4"/>
<circle cx="400.8" cy="561.8" r="2.4"/>
<circle cx="390.9" cy="567.7" r="2.4"/>
<circle cx="396.8" cy="568.6" r="2.4"/>
<circle cx="399.6" cy="566.9" r="2.4"/>
<circle cx="404.0" cy="570.5" r="2.4"/>
<circle cx="379.0" cy="569.4" r="2.4"/>
<circle cx="379.9" cy="573.3" r="2.4"/>
<circle cx="383.1" cy="574.3" r="2.4"/>
<circle cx="381.2" cy="574.9" r="2.4"/>
<circle cx="399.6" cy="577.4" r="2.4"/>
<circle cx="420.7" cy="570.4" r="2.4"/>
<circle cx="423.8" cy="571.2" r="2.4"/>
<circle cx="437.2" cy="569.4" r="2.4"/>
<circle cx="443.8" cy="567.6" r="2.4"/>
<circle cx="446.4" cy="572.3" r="2.4"/>
<circle cx="430.9" cy="576.7" r="2.4"/>
<circle cx="430.9" cy="581.9" r="2.4"/>
<circle cx="435.4" cy="584.8" r="2.4"/>
<circle cx="441.4" cy="587.6" r="2.4"/>
<circle cx="433.9" cy="590.4" r="2.4"/>
<circle cx="426.4" cy="591.9" r="2.4"/>
<circle cx="386.9" cy="585.4" r="2.4"/>
<circle cx="387.9" cy="590.5" r="2.4"/>
<circle cx="400.6" cy="585.7" r="2.4"/>
<circle cx="398.3" cy="592.3" r="2.4"/>
<circle cx="407.8" cy="585.7" r="2.4"/>
<circle cx="407.4" cy="588.0" r="2.4"/>
<circle cx="410.0" cy="590.5" r="2.4"/>
<circle cx="414.6" cy="588.2" r="2.4"/>
<circle cx="416.1" cy="590.8" r="2.4"/>
<circle cx="418.0" cy="595.2" r="2.4"/>
</svg>
</body></html>
